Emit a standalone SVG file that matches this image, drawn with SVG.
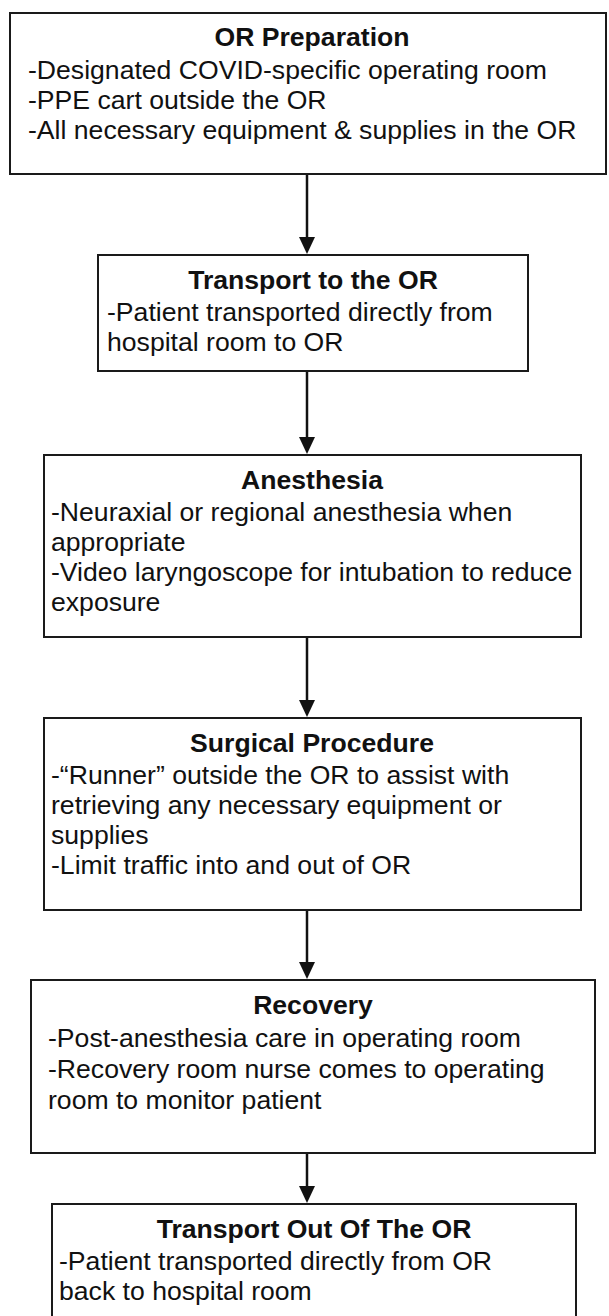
<svg xmlns="http://www.w3.org/2000/svg" width="609" height="1316" viewBox="0 0 609 1316">
<defs>
<style>
.box{fill:#fff;stroke:#1a1a1a;stroke-width:2}
.t{font-family:"Liberation Sans",Arial,sans-serif;font-size:26.6px;fill:#111}
.h{font-family:"Liberation Sans",Arial,sans-serif;font-size:26.6px;font-weight:bold;fill:#111;text-anchor:middle}
.c{stroke:#111;stroke-width:2.5;fill:none}
.ah{fill:#111}
</style>
</defs>
<rect width="609" height="1316" fill="#fff"/>
<g id="connectors">
<line class="c" x1="307" y1="175" x2="307" y2="239"/><path class="ah" d="M299,237 L315,237 L307,254 z"/>
<line class="c" x1="307" y1="372" x2="307" y2="439"/><path class="ah" d="M299,437 L315,437 L307,454 z"/>
<line class="c" x1="307" y1="638" x2="307" y2="702"/><path class="ah" d="M299,700 L315,700 L307,717 z"/>
<line class="c" x1="307" y1="911" x2="307" y2="964"/><path class="ah" d="M299,962 L315,962 L307,979 z"/>
<line class="c" x1="307" y1="1154" x2="307" y2="1188"/><path class="ah" d="M299,1186 L315,1186 L307,1203 z"/>
</g>
<g id="n1">
<rect class="box" x="10" y="13" width="596" height="161"/>
<text class="h" x="312" y="46">OR Preparation</text>
<text class="t" x="28" y="79">-Designated COVID-specific operating room</text>
<text class="t" x="28" y="109">-PPE cart outside the OR</text>
<text class="t" x="28" y="139">-All necessary equipment &amp; supplies in the OR</text>
</g>
<g id="n2">
<rect class="box" x="98" y="255" width="430" height="116"/>
<text class="h" x="313" y="289">Transport to the OR</text>
<text class="t" x="107" y="321">-Patient transported directly from</text>
<text class="t" x="107" y="351">hospital room to OR</text>
</g>
<g id="n3">
<rect class="box" x="44" y="455" width="537" height="182"/>
<text class="h" x="312" y="489">Anesthesia</text>
<text class="t" x="51" y="521">-Neuraxial or regional anesthesia when</text>
<text class="t" x="51" y="551">appropriate</text>
<text class="t" x="51" y="581">-Video laryngoscope for intubation to reduce</text>
<text class="t" x="51" y="611">exposure</text>
</g>
<g id="n4">
<rect class="box" x="44" y="718" width="537" height="192"/>
<text class="h" x="312" y="752">Surgical Procedure</text>
<text class="t" x="51" y="784">-“Runner” outside the OR to assist with</text>
<text class="t" x="51" y="814">retrieving any necessary equipment or</text>
<text class="t" x="51" y="844">supplies</text>
<text class="t" x="51" y="874">-Limit traffic into and out of OR</text>
</g>
<g id="n5">
<rect class="box" x="31" y="980" width="564" height="173"/>
<text class="h" x="313" y="1014">Recovery</text>
<text class="t" x="48" y="1047">-Post-anesthesia care in operating room</text>
<text class="t" x="48" y="1078">-Recovery room nurse comes to operating</text>
<text class="t" x="48" y="1109">room to monitor patient</text>
</g>
<g id="n6">
<rect class="box" x="52" y="1204" width="524" height="130"/>
<text class="h" x="314" y="1238">Transport Out Of The OR</text>
<text class="t" x="59" y="1270">-Patient transported directly from OR</text>
<text class="t" x="59" y="1300">back to hospital room</text>
</g>
</svg>
